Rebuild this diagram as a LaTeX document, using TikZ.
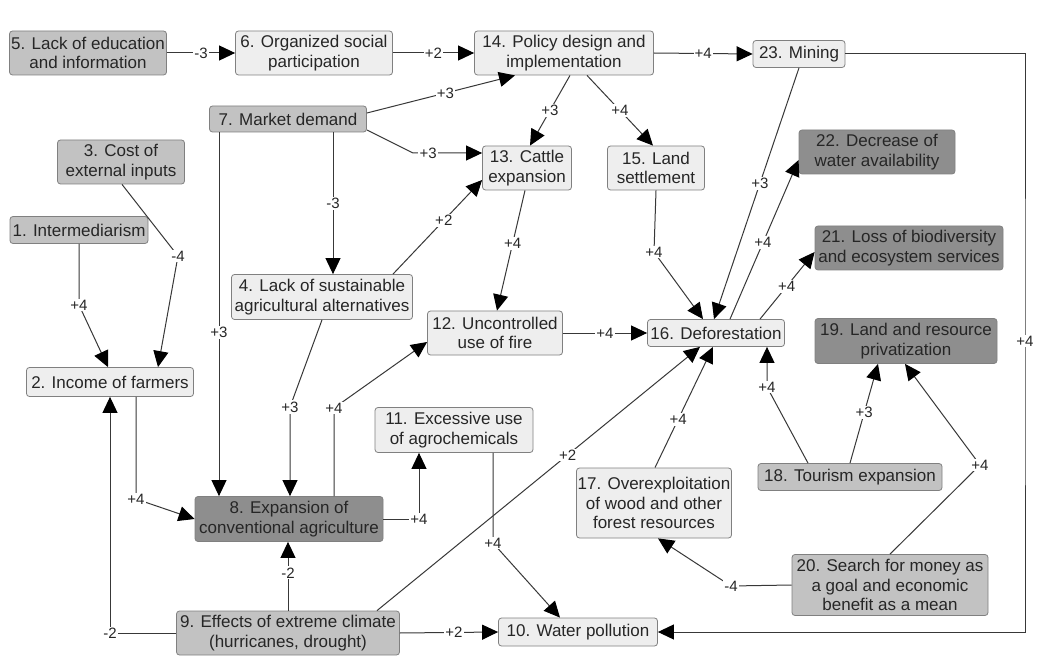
\documentclass[tikz,border=0pt]{standalone}
\usepackage{fontspec}
\setmainfont{Liberation Sans}
\usetikzlibrary{arrows.meta}
\definecolor{boxlight}{HTML}{EEEEEE}
\definecolor{boxmid}{HTML}{C2C2C2}
\definecolor{boxdark}{HTML}{8E8E8E}
\definecolor{boxedge}{HTML}{808080}
\definecolor{linkcol}{HTML}{383838}
\definecolor{ink}{HTML}{262626}
\begin{document}
\begin{tikzpicture}[x=1pt,y=-1pt,
  box/.style={draw=boxedge, line width=0.8pt, rounded corners=3pt, align=center,
    text=ink, font=\fontsize{17}{19.5}\selectfont, inner sep=1pt},
  light/.style={box, fill=boxlight},
  mid/.style={box, fill=boxmid},
  dark/.style={box, fill=boxdark},
  link/.style={draw=linkcol, line width=1pt,
    -{Triangle[length=16pt,width=15pt,color=black]}},
  lbl/.style={fill=white, inner sep=1.2pt, text=ink, font=\fontsize{15}{17}\selectfont}]

\useasboundingbox[fill=white] (0,0) rectangle (1053,663);

% factors
\node[mid,   minimum width=138pt, minimum height=27pt] (n1)  at (79,230)  {1. Intermediarism};
\node[light, minimum width=167pt, minimum height=29pt] (n2)  at (110,382) {2. Income of farmers};
\node[mid,   minimum width=127pt, minimum height=44pt] (n3)  at (121,162) {3. Cost of\\external inputs};
\node[light, minimum width=181pt, minimum height=45pt] (n4)  at (322,297) {4. Lack of sustainable\\agricultural alternatives};
\node[mid,   minimum width=157pt, minimum height=44pt] (n5)  at (88,53)   {5. Lack of education\\and information};
\node[light, minimum width=157pt, minimum height=44pt] (n6)  at (314,53)  {6. Organized social\\participation};
\node[mid,   minimum width=157pt, minimum height=26pt] (n7)  at (288,119) {7. Market demand};
\node[dark,  minimum width=188pt, minimum height=45pt] (n8)  at (289,519) {8. Expansion of\\conventional agriculture};
\node[mid,   minimum width=223pt, minimum height=44pt] (n9)  at (288,633) {9. Effects of extreme climate\\(hurricanes, drought)};
\node[light, minimum width=159pt, minimum height=28pt] (n10) at (578,632) {10. Water pollution};
\node[light, minimum width=158pt, minimum height=45pt] (n11) at (454,430) {11. Excessive use\\of agrochemicals};
\node[light, minimum width=135pt, minimum height=44pt] (n12) at (495,333) {12. Uncontrolled\\use of fire};
\node[light, minimum width=89pt,  minimum height=44pt] (n13) at (527,168) {13. Cattle\\expansion};
\node[light, minimum width=179pt, minimum height=44pt] (n14) at (564,53)  {14. Policy design and\\implementation};
\node[light, minimum width=97pt,  minimum height=44pt] (n15) at (656,168) {15. Land\\settlement};
\node[light, minimum width=137pt, minimum height=27pt] (n16) at (716,333) {16. Deforestation};
\node[light, minimum width=155pt, minimum height=70pt] (n17) at (654,503) {17. Overexploitation\\of wood and other\\forest resources};
\node[mid,   minimum width=184pt, minimum height=27pt] (n18) at (850,477) {18. Tourism expansion};
\node[dark,  minimum width=182pt, minimum height=45pt] (n19) at (906,341) {19. Land and resource\\privatization};
\node[mid,   minimum width=196pt, minimum height=61pt] (n20) at (890,585) {20. Search for money as\\a goal and economic\\benefit as a mean};
\node[dark,  minimum width=188pt, minimum height=44pt] (n21) at (909,248) {21. Loss of biodiversity\\and ecosystem services};
\node[dark,  minimum width=156pt, minimum height=44pt] (n22) at (877,152) {22. Decrease of\\water availability};
\node[light, minimum width=92pt,  minimum height=27pt] (n23) at (799,54)  {23. Mining};

% top row
\draw[link] (n5.east) -- node[lbl]{-3} (n6.west);
\draw[link] (n6.east) -- node[lbl]{+2} (n14.west);
\draw[link] (n14.east) -- node[lbl]{+4} (n23.west);

% market demand
\draw[link] ([yshift=6pt]n7.east) -- node[lbl,pos=0.53]{+3} ([xshift=-49pt]n14.south);
\draw[link] ([yshift=-11pt]n7.east) -- (413,153) -- node[lbl,pos=0.22]{+3} ([yshift=15pt]n13.west);
\draw[link] ([xshift=-69pt]n7.south) -- node[lbl,pos=0.55]{+3} ([xshift=-70pt]n8.north);
\draw[link] ([xshift=45pt]n7.south) -- node[lbl]{-3} ([xshift=11pt]n4.north);

% policy
\draw[link] ([xshift=6pt]n14.south) -- node[lbl]{+3} ([xshift=3pt]n13.north);
\draw[link] ([xshift=23pt]n14.south) -- node[lbl]{+4} ([xshift=-3pt]n15.north);

% mining
\draw[link] (n23.south) -- node[lbl,pos=0.46]{+3} ([xshift=-2pt]n16.north);
\draw[link] (n23.east) -- (1025,54) -- (1025,341) node[lbl]{+4} -- (1025,632) -- (n10.east);

% deforestation consequences
\draw[link] ([xshift=14pt]n16.north) -- node[lbl,pos=0.48]{+4} ([yshift=-8pt]n22.west);
\draw[link] ([xshift=44pt]n16.north) -- node[lbl,pos=0.49]{+4} ([yshift=-4pt]n21.west);

% into deforestation
\draw[link] (n15.south) -- (654,252) node[lbl]{+4} -- ([xshift=-13pt]n16.north);
\draw[link] (n12.east) -- node[lbl]{+4} (n16.west);
\draw[link] ([xshift=89pt]n9.north) -- node[lbl,pos=0.59]{+2} ([xshift=-16pt]n16.south);
\draw[link] ([xshift=1pt]n17.north) -- node[lbl,pos=0.4]{+4} ([xshift=-3pt]n16.south);
\draw[link] ([xshift=-42pt]n18.north) -- (767,387) node[lbl]{+4} -- ([xshift=51pt]n16.south);

% cattle and fire
\draw[link] ([xshift=-2pt]n13.south) -- node[lbl,pos=0.44]{+4} ([xshift=2pt]n12.north);
\draw[link] ([xshift=71pt]n4.north) -- node[lbl,pos=0.57]{+2} ([yshift=-12pt]n13.west);

% farmers
\draw[link] (n1.south) -- (79,305) node[lbl]{+4} -- ([xshift=-2pt]n2.north);
\draw[link] ([xshift=1pt]n3.south) -- (178,256) node[lbl]{-4} -- ([xshift=48pt]n2.north);
\draw[link] ([xshift=26pt]n2.south) -- (136,499) node[lbl]{+4} -- (n8.west);
\draw[link] (n9.west) -- (110,633) node[lbl]{-2} -- (n2.south);

% conventional agriculture
\draw[link] (n4.south) -- (290,407) node[lbl]{+3} -- ([xshift=1pt]n8.north);
\draw[link] ([xshift=45pt]n8.north) -- (334,408) node[lbl]{+4} -- ([yshift=-9pt]n12.west);
\draw[link] (n8.east) -- (419,519) node[lbl]{+4} -- ([xshift=-35pt]n11.south);
\draw[link] ([xshift=39pt]n11.south) -- (493,543) node[lbl]{+4} -- ([xshift=-18pt]n10.north);

% climate
\draw[link] (n9.north) -- node[lbl,pos=0.55]{-2} ([xshift=-1pt]n8.south);
\draw[link] (n9.east) -- node[lbl,pos=0.55]{+2} (n10.west);

% tourism and money
\draw[link] (n18.north) -- node[lbl,pos=0.51]{+3} ([xshift=-28pt]n19.south);
\draw[link] (n20.north) -- (980,465) node[lbl]{+4} -- ([xshift=-1pt]n19.south);
\draw[link] (n20.west) -- (731,586) node[lbl]{-4} -- ([xshift=4pt]n17.south);

\end{tikzpicture}
\end{document}
